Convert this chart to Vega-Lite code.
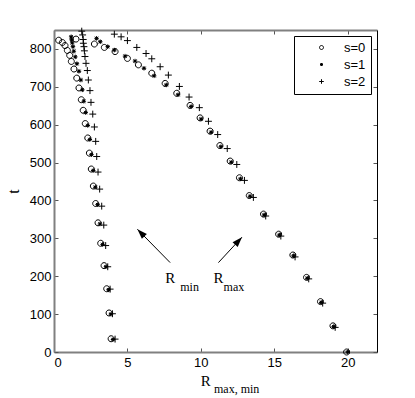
{
"$schema":"https://vega.github.io/schema/vega-lite/v6.json",
"width":323,"height":322,
"autosize":{"type":"none"},
"padding":{"left":54,"top":30,"right":38,"bottom":46},
"background":"white",
"config":{"view":{"stroke":null},"axis":{"grid":false,"labelFont":"Liberation Sans","labelFontSize":13,"labelColor":"black","tickColor":"#555555","domainColor":"#808080","domainWidth":2,"tickWidth":1}},
"datasets":{
"pts":[
{"s":"s=0","R":3.89,"t":35},{"s":"s=0","R":3.75,"t":103},{"s":"s=0","R":3.59,"t":167},{"s":"s=0","R":3.41,"t":228},{"s":"s=0","R":3.18,"t":287},{"s":"s=0","R":3.0,"t":341},{"s":"s=0","R":2.84,"t":392},{"s":"s=0","R":2.68,"t":438},{"s":"s=0","R":2.54,"t":483},{"s":"s=0","R":2.41,"t":525},{"s":"s=0","R":2.30,"t":565},{"s":"s=0","R":2.13,"t":603},{"s":"s=0","R":1.99,"t":638},{"s":"s=0","R":1.86,"t":666},{"s":"s=0","R":1.70,"t":697},{"s":"s=0","R":1.55,"t":723},{"s":"s=0","R":1.36,"t":747},{"s":"s=0","R":1.18,"t":767},{"s":"s=0","R":1.07,"t":783},{"s":"s=0","R":0.91,"t":796},{"s":"s=0","R":0.75,"t":809},{"s":"s=0","R":0.57,"t":817},{"s":"s=0","R":0.32,"t":823},
{"s":"s=0","R":19.93,"t":0},{"s":"s=0","R":19.0,"t":69},{"s":"s=0","R":18.15,"t":133},{"s":"s=0","R":17.2,"t":197},{"s":"s=0","R":16.27,"t":256},{"s":"s=0","R":15.3,"t":311},{"s":"s=0","R":14.27,"t":364},{"s":"s=0","R":13.3,"t":413},{"s":"s=0","R":12.63,"t":460},{"s":"s=0","R":12.0,"t":504},{"s":"s=0","R":11.3,"t":545},{"s":"s=0","R":10.63,"t":583},{"s":"s=0","R":9.95,"t":618},{"s":"s=0","R":9.27,"t":651},{"s":"s=0","R":8.36,"t":683},{"s":"s=0","R":7.57,"t":709},{"s":"s=0","R":6.66,"t":736},{"s":"s=0","R":5.75,"t":758},{"s":"s=0","R":5.0,"t":775},{"s":"s=0","R":4.16,"t":793},{"s":"s=0","R":3.43,"t":804},{"s":"s=0","R":2.75,"t":813},{"s":"s=0","R":1.5,"t":826},
{"s":"s=1","R":4.02,"t":33},{"s":"s=1","R":3.88,"t":100},{"s":"s=1","R":3.72,"t":164},{"s":"s=1","R":3.54,"t":225},{"s":"s=1","R":3.31,"t":284},{"s":"s=1","R":3.13,"t":338},{"s":"s=1","R":2.97,"t":389},{"s":"s=1","R":2.81,"t":435},{"s":"s=1","R":2.67,"t":479},{"s":"s=1","R":2.55,"t":521},{"s":"s=1","R":2.44,"t":561},{"s":"s=1","R":2.30,"t":598},{"s":"s=1","R":2.16,"t":632},{"s":"s=1","R":2.03,"t":662},{"s":"s=1","R":1.93,"t":692},{"s":"s=1","R":1.83,"t":718},{"s":"s=1","R":1.70,"t":741},{"s":"s=1","R":1.56,"t":761},{"s":"s=1","R":1.45,"t":779},{"s":"s=1","R":1.35,"t":794},{"s":"s=1","R":1.29,"t":806},{"s":"s=1","R":1.24,"t":816},{"s":"s=1","R":1.20,"t":824},{"s":"s=1","R":1.17,"t":832},
{"s":"s=1","R":20.0,"t":0},{"s":"s=1","R":19.05,"t":67},{"s":"s=1","R":18.2,"t":131},{"s":"s=1","R":17.25,"t":195},{"s":"s=1","R":16.32,"t":254},{"s":"s=1","R":15.35,"t":309},{"s":"s=1","R":14.32,"t":362},{"s":"s=1","R":13.35,"t":411},{"s":"s=1","R":12.7,"t":457},{"s":"s=1","R":12.07,"t":501},{"s":"s=1","R":11.37,"t":542},{"s":"s=1","R":10.7,"t":580},{"s":"s=1","R":10.02,"t":615},{"s":"s=1","R":9.34,"t":648},{"s":"s=1","R":8.45,"t":679},{"s":"s=1","R":7.65,"t":705},{"s":"s=1","R":6.82,"t":729},{"s":"s=1","R":6.13,"t":749},{"s":"s=1","R":5.52,"t":768},{"s":"s=1","R":4.84,"t":781},{"s":"s=1","R":4.11,"t":797},{"s":"s=1","R":3.66,"t":806},{"s":"s=1","R":3.15,"t":819},{"s":"s=1","R":2.9,"t":828},
{"s":"s=2","R":4.16,"t":34},{"s":"s=2","R":3.98,"t":101},{"s":"s=2","R":3.82,"t":166},{"s":"s=2","R":3.66,"t":225},{"s":"s=2","R":3.52,"t":281},{"s":"s=2","R":3.39,"t":335},{"s":"s=2","R":3.25,"t":385},{"s":"s=2","R":3.11,"t":430},{"s":"s=2","R":3.0,"t":475},{"s":"s=2","R":2.91,"t":516},{"s":"s=2","R":2.84,"t":556},{"s":"s=2","R":2.75,"t":594},{"s":"s=2","R":2.64,"t":628},{"s":"s=2","R":2.52,"t":659},{"s":"s=2","R":2.45,"t":690},{"s":"s=2","R":2.34,"t":718},{"s":"s=2","R":2.27,"t":743},{"s":"s=2","R":2.18,"t":762},{"s":"s=2","R":2.11,"t":780},{"s":"s=2","R":2.07,"t":795},{"s":"s=2","R":2.04,"t":806},{"s":"s=2","R":2.0,"t":815},{"s":"s=2","R":1.99,"t":825},{"s":"s=2","R":1.95,"t":837},{"s":"s=2","R":1.89,"t":847},
{"s":"s=2","R":19.15,"t":65},{"s":"s=2","R":18.3,"t":129},{"s":"s=2","R":17.35,"t":193},{"s":"s=2","R":16.42,"t":251},{"s":"s=2","R":15.45,"t":306},{"s":"s=2","R":14.42,"t":359},{"s":"s=2","R":13.58,"t":408},{"s":"s=2","R":12.97,"t":453},{"s":"s=2","R":12.45,"t":495},{"s":"s=2","R":11.8,"t":537},{"s":"s=2","R":11.15,"t":574},{"s":"s=2","R":10.52,"t":609},{"s":"s=2","R":9.9,"t":645},{"s":"s=2","R":9.2,"t":673},{"s":"s=2","R":8.54,"t":701},{"s":"s=2","R":7.79,"t":731},{"s":"s=2","R":7.23,"t":753},{"s":"s=2","R":6.66,"t":774},{"s":"s=2","R":6.27,"t":788},{"s":"s=2","R":5.64,"t":804},{"s":"s=2","R":5.0,"t":822},{"s":"s=2","R":4.57,"t":832},{"s":"s=2","R":4.11,"t":839}
],
"arrows":[{"name":"min","R":7.91,"t":236,"R2":5.68,"t2":324},{"name":"max","R":11.2,"t":236,"R2":12.8,"t2":303}],
"bigtext":[{"label":"R","R":7.57,"t":183},{"label":"R","R":10.86,"t":183},{"label":"R","R":10.0,"t":-89}],
"smalltext":[{"label":"min","R":8.6,"t":162},{"label":"max","R":11.55,"t":162},{"label":"max, min","R":10.9,"t":-107}]
},
"resolve":{"axis":{"x":"independent","y":"independent"}},
"layer":[
{"data":{"name":"pts"},"mark":{"type":"point","filled":false,"color":"black","opacity":1,"size":36,"strokeWidth":1},
"encoding":{
"x":{"field":"R","type":"quantitative","scale":{"domain":[0,22],"nice":false,"zero":false},"axis":{"orient":"bottom","values":[0,5,10,15,20],"tickSize":-4,"labelPadding":8,"title":null}},
"y":{"field":"t","type":"quantitative","scale":{"domain":[0,850],"nice":false},"axis":{"orient":"left","values":[0,100,200,300,400,500,600,700,800],"tickSize":-4,"labelPadding":7,"title":"t","titleFont":"Liberation Serif","titleFontSize":16,"titleFontWeight":"normal","titleColor":"black","titlePadding":8}},
"shape":{"field":"s","type":"nominal","scale":{"domain":["s=0","s=1","s=2"],"range":["M1,0A1,1 0 1,1 -1,0A1,1 0 1,1 1,0Z","M-0.75,0H0.75M0,-0.75V0.75M-0.55,-0.55L0.55,0.55M-0.55,0.55L0.55,-0.55M-0.4,-0.2H0.4M-0.4,0.2H0.4","M-1.15,0H1.15M0,-1.15V1.15"]},
"legend":{"title":null,"orient":"top-right","offset":6,"strokeColor":"black","fillColor":"white","padding":5,"labelFont":"Liberation Sans","labelFontSize":13,"labelColor":"black","symbolSize":16,"symbolStrokeWidth":1,"symbolStrokeColor":"black","symbolOffset":16,"labelOffset":16,"rowPadding":3}}
}},
{"data":{"name":"pts"},"mark":{"type":"point","opacity":0},
"encoding":{
"x":{"field":"R","type":"quantitative","scale":{"domain":[0,22],"nice":false,"zero":false},"axis":{"orient":"top","values":[0,5,10,15,20],"tickSize":-4,"labels":false,"title":null}},
"y":{"field":"t","type":"quantitative","scale":{"domain":[0,850],"nice":false},"axis":{"orient":"right","values":[0,100,200,300,400,500,600,700,800],"tickSize":-4,"labels":false,"title":null,"domainColor":"black","domainWidth":1}}
}},
{"data":{"name":"arrows"},"mark":{"type":"rule","color":"black","strokeWidth":1},
"encoding":{"x":{"field":"R","type":"quantitative","scale":{"domain":[0,22],"nice":false,"zero":false},"axis":null},"y":{"field":"t","type":"quantitative","scale":{"domain":[0,850],"nice":false},"axis":null},"x2":{"field":"R2"},"y2":{"field":"t2"}}},
{"data":{"name":"arrows"},"transform":[{"filter":"datum.name === 'min'"}],"mark":{"type":"point","shape":"M0,0L-0.7,2L0.7,2Z","filled":true,"color":"black","size":100,"angle":315.6,"opacity":1},
"encoding":{"x":{"field":"R2","type":"quantitative","scale":{"domain":[0,22],"nice":false,"zero":false},"axis":null},"y":{"field":"t2","type":"quantitative","scale":{"domain":[0,850],"nice":false},"axis":null}}},
{"data":{"name":"arrows"},"transform":[{"filter":"datum.name === 'max'"}],"mark":{"type":"point","shape":"M0,0L-0.7,2L0.7,2Z","filled":true,"color":"black","size":100,"angle":42.7,"opacity":1},
"encoding":{"x":{"field":"R2","type":"quantitative","scale":{"domain":[0,22],"nice":false,"zero":false},"axis":null},"y":{"field":"t2","type":"quantitative","scale":{"domain":[0,850],"nice":false},"axis":null}}},
{"data":{"name":"bigtext"},"mark":{"type":"text","font":"Liberation Serif","fontSize":15,"align":"left","baseline":"alphabetic","color":"black"},
"encoding":{"x":{"field":"R","type":"quantitative","scale":{"domain":[0,22],"nice":false,"zero":false},"axis":null},"y":{"field":"t","type":"quantitative","scale":{"domain":[0,850],"nice":false},"axis":null},"text":{"field":"label"}}},
{"data":{"name":"smalltext"},"mark":{"type":"text","font":"Liberation Serif","fontSize":12,"align":"left","baseline":"alphabetic","color":"black"},
"encoding":{"x":{"field":"R","type":"quantitative","scale":{"domain":[0,22],"nice":false,"zero":false},"axis":null},"y":{"field":"t","type":"quantitative","scale":{"domain":[0,850],"nice":false},"axis":null},"text":{"field":"label"}}}
]
}
